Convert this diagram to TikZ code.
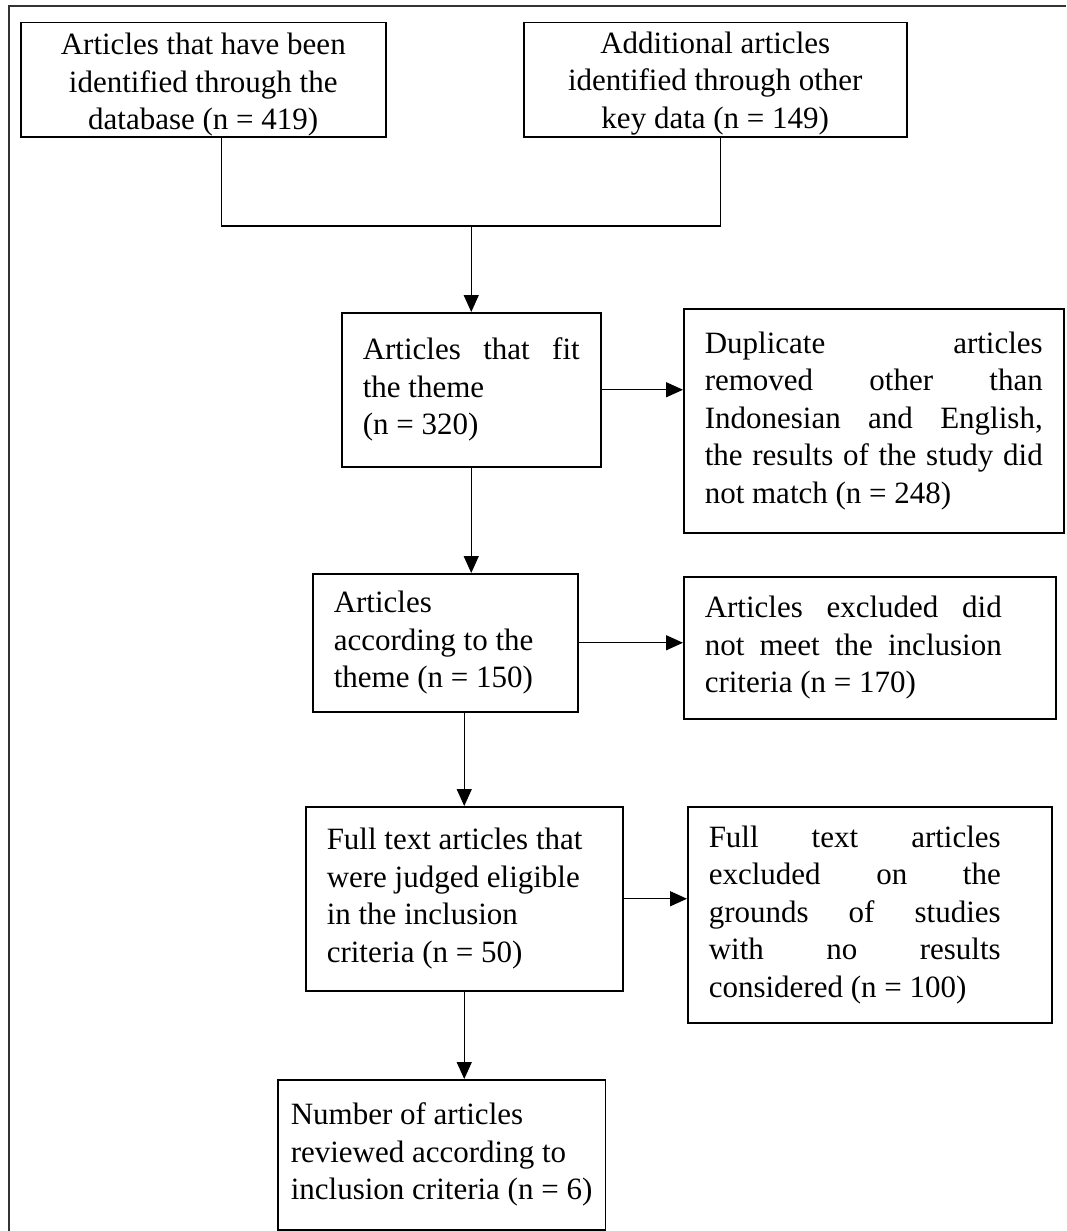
\documentclass[tikz,border=0pt]{standalone}
\usepackage{fontspec}
\setmainfont{Liberation Serif}
\usetikzlibrary{arrows.meta}
\newcommand{\jl}[2][\linewidth]{\makebox[#1][s]{\spaceskip=0pt\xspaceskip=0pt #2}}

\begin{document}
\begin{tikzpicture}[
  x=1pt, y=-1pt,
  font=\fontsize{31}{37.5}\selectfont,
  >={Triangle[length=17pt,width=15pt]},
  box/.style={draw=black, line width=1.5pt, anchor=north west, inner xsep=21pt, inner ysep=2pt, align=flush left, minimum height=#1},
  cbox/.style={box=#1, align=flush center},
  link/.style={draw=black, line width=1.4pt},
  arr/.style={->, draw=black, line width=1.4pt},
  frame/.style={draw=black!80, line width=2pt}
]
\useasboundingbox (0,0) rectangle (1066,1231);

% Frame
\draw[frame] (9,1231) -- (9,6) -- (1066,6);

% Sources
\node[cbox=114pt, text width=323pt, text depth=72pt] (b1) at (20,22) {Articles that have been\\identified through the\\database (n = 419)};
\node[cbox=114pt, text width=341pt, text depth=75pt] (b2) at (523,22) {Additional articles\\identified through other\\key data (n = 149)};

% Main column
\node[box=154pt, text width=217pt] (b3) at (341,312) {\jl{Articles that fit}\\the theme\\(n = 320)};
\node[box=138pt, text width=223pt] (b5) at (312,573) {Articles\\according to the\\theme (n = 150)};
\node[box=184pt, text width=275pt] (b7) at (305,806) {Full text articles that\\were judged eligible\\in the inclusion\\criteria (n = 50)};
\node[box=150pt, inner xsep=13pt] (b9) at (277,1079) {Number of articles\\reviewed according to\\inclusion criteria (n = 6)};

% Exclusions
\node[box=224pt, text width=338pt] (b4) at (683,308) {\jl{Duplicate articles}\\\jl{removed other than}\\\jl{Indonesian and English,}\\\jl{the results of the study did}\\not match (n = 248)};
\node[box=142pt, text width=330pt] (b6) at (683,576) {\jl[297pt]{Articles excluded did}\\\jl[297pt]{not meet the inclusion}\\criteria (n = 170)};
\node[box=216pt, text width=322pt] (b8) at (687,806) {\jl[292pt]{Full text articles}\\\jl[292pt]{excluded on the}\\\jl[292pt]{grounds of studies}\\\jl[292pt]{with no results}\\considered (n = 100)};

% Merge of sources
\coordinate (join) at (b3.north |- 0,226);
\draw[link] ([xshift=18pt]b1.south) |- (join) -| ([xshift=5pt]b2.south);
\draw[arr] (join) -- (b3.north);

% Flow down
\draw[arr] (b3.south) -- (b3.south |- b5.north);
\draw[arr] (b7.north |- b5.south) -- (b7.north);
\draw[arr] (b7.south) -- (b7.south |- b9.north);

% Flow right
\draw[arr] (b3.east) -- (b3.east -| b4.west);
\draw[arr] (b5.east) -- (b5.east -| b6.west);
\draw[arr] (b7.east) -- (b7.east -| b8.west);

\end{tikzpicture}
\end{document}
